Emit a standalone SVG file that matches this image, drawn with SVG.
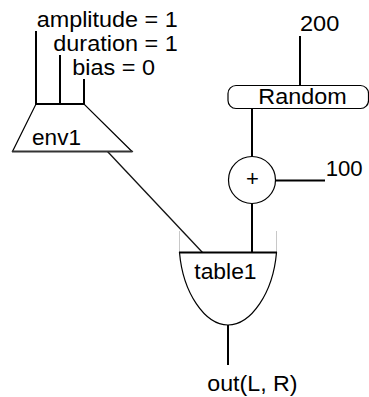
<svg xmlns="http://www.w3.org/2000/svg" width="369" height="397" viewBox="0 0 369 397">
  <style>
    text { font-family: "Liberation Sans", Arial, sans-serif; font-size: 22px; fill: #000; }
    .wire { stroke: #000; stroke-width: 2; fill: none; }
    .thin { stroke: #111; stroke-width: 1.3; fill: none; }
    .shape { stroke: #000; stroke-width: 1.2; fill: #fff; }
    .ghost { stroke: #c8c8c8; stroke-width: 1; fill: none; }
  </style>
  <rect width="369" height="397" fill="#fff"/>

  <!-- connectors -->
  <g id="connectors">
    <line class="wire" x1="36" y1="31" x2="36" y2="104"/>
    <line class="wire" x1="60" y1="55" x2="60" y2="104"/>
    <line class="wire" x1="84" y1="79" x2="84" y2="104"/>
    <line class="wire" x1="300" y1="36" x2="300" y2="85"/>
    <line class="wire" x1="252" y1="108" x2="252" y2="157"/>
    <line class="wire" x1="276" y1="180.5" x2="325" y2="180.5"/>
    <line class="wire" x1="252" y1="203" x2="252" y2="252.5"/>
    <line class="thin" x1="107.5" y1="151.5" x2="202.5" y2="252.5"/>
    <line class="wire" x1="228" y1="325" x2="228" y2="365"/>
  </g>

  <!-- envelope generator -->
  <g id="env1">
    <polygon class="shape" points="36,104 84,104 132,151.5 12.5,151.5"/>
    <line class="wire" x1="35" y1="104" x2="85" y2="104"/>
    <line stroke="#333" stroke-width="1.8" x1="12" y1="151.5" x2="132.5" y2="151.5"/>
    <text x="32" y="145" textLength="49" lengthAdjust="spacingAndGlyphs">env1</text>
  </g>

  <!-- parameter labels -->
  <g id="params">
    <text x="36.7" y="26.5" textLength="141" lengthAdjust="spacingAndGlyphs">amplitude = 1</text>
    <text x="53.3" y="50.5" textLength="124.4" lengthAdjust="spacingAndGlyphs">duration = 1</text>
    <text x="72.3" y="74.5" textLength="82.7" lengthAdjust="spacingAndGlyphs">bias = 0</text>
  </g>

  <g id="const200">
    <text x="300" y="31" textLength="39.3" lengthAdjust="spacingAndGlyphs">200</text>
  </g>

  <g id="random">
    <rect class="shape" x="228" y="85.5" width="140.5" height="23" rx="8" ry="8"/>
    <text x="258.3" y="104" textLength="88.3" lengthAdjust="spacingAndGlyphs">Random</text>
  </g>

  <g id="adder">
    <circle class="shape" cx="252" cy="180" r="23.5"/>
    <text x="252.5" y="186" text-anchor="middle">+</text>
  </g>

  <g id="const100">
    <text x="325.7" y="175.5" textLength="37" lengthAdjust="spacingAndGlyphs">100</text>
  </g>

  <g id="table1">
    <line class="ghost" x1="179.5" y1="231" x2="179.5" y2="252"/>
    <line class="ghost" x1="276.5" y1="231" x2="276.5" y2="252"/>
    <path class="shape" d="M179.5,252.5 C183,293 205,325 228,325 C251,325 273,293 276.5,252.5 Z"/>
    <line class="wire" x1="179" y1="252.5" x2="277" y2="252.5"/>
    <text x="194.3" y="279" textLength="62.3" lengthAdjust="spacingAndGlyphs">table1</text>
  </g>

  <g id="output">
    <text x="207.3" y="391" textLength="90.3" lengthAdjust="spacingAndGlyphs">out(L, R)</text>
  </g>
</svg>
